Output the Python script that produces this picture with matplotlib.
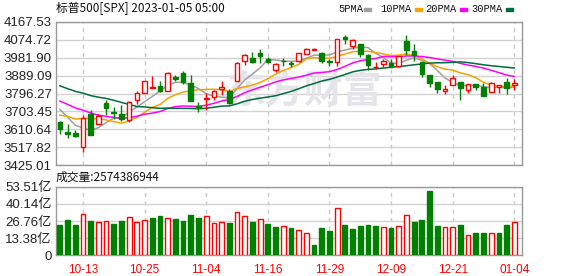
import numpy as np
import pandas as pd
import matplotlib
matplotlib.use("Agg")
import matplotlib.pyplot as plt
from matplotlib.patches import Rectangle

# 标普500 日K (2022-10-10 ~ 2023-01-04)
dates = ['10-10', '10-11', '10-12', '10-13', '10-14', '10-17', '10-18', '10-19', '10-20', '10-21',
         '10-24', '10-25', '10-26', '10-27', '10-28', '10-31', '11-01', '11-02', '11-03', '11-04',
         '11-07', '11-08', '11-09', '11-10', '11-11', '11-14', '11-15', '11-16', '11-17', '11-18',
         '11-21', '11-22', '11-23', '11-25', '11-28', '11-29', '11-30', '12-01', '12-02', '12-05',
         '12-06', '12-07', '12-08', '12-09', '12-12', '12-13', '12-14', '12-15', '12-16', '12-19',
         '12-20', '12-21', '12-22', '12-23', '12-27', '12-28', '12-29', '12-30', '01-03', '01-04']
open_ = [3647.5, 3595.9, 3590.8, 3520.4, 3690.4, 3638.7, 3746.3, 3703.1, 3689.1, 3657.1,
         3762.0, 3799.4, 3826.0, 3834.7, 3808.3, 3881.9, 3901.8, 3852.9, 3733.3, 3767.0,
         3780.7, 3817.0, 3810.9, 3859.9, 3963.7, 3978.0, 4006.4, 3976.8, 3919.3, 3966.4,
         3956.2, 3965.5, 4000.3, 4023.3, 4005.4, 3964.2, 3957.2, 4087.1, 4040.2, 4052.0,
         3996.6, 3933.3, 3947.8, 3954.2, 3939.3, 4069.4, 4015.5, 3958.4, 3890.9, 3853.8,
         3810.5, 3839.5, 3853.3, 3815.1, 3843.3, 3829.6, 3805.5, 3829.1, 3853.3, 3840.4]
high = [3652.2, 3640.7, 3608.3, 3685.4, 3712.0, 3689.7, 3762.8, 3728.6, 3736.0, 3757.9,
        3810.7, 3862.9, 3886.2, 3860.0, 3905.4, 3893.7, 3911.8, 3894.4, 3750.6, 3796.3,
        3814.0, 3859.4, 3818.2, 3958.3, 4001.5, 4009.0, 4028.8, 3983.1, 3954.3, 3979.9,
        3962.0, 4005.9, 4033.8, 4034.0, 4012.3, 3976.8, 4080.1, 4100.5, 4080.5, 4052.5,
        4001.5, 3957.6, 3974.2, 3977.0, 3990.7, 4101.0, 4053.8, 3958.4, 3890.9, 3854.9,
        3838.2, 3889.8, 3853.3, 3845.8, 3846.7, 3848.3, 3858.2, 3839.9, 3878.5, 3873.2]
low = [3588.1, 3568.5, 3573.9, 3491.6, 3579.7, 3638.7, 3686.5, 3666.5, 3656.4, 3647.4,
       3741.7, 3799.4, 3824.1, 3803.8, 3808.3, 3863.2, 3843.8, 3758.7, 3698.2, 3708.8,
       3764.7, 3786.3, 3744.2, 3859.9, 3944.8, 3956.4, 3953.2, 3954.3, 3906.5, 3936.0,
       3933.3, 3956.9, 3998.7, 4020.8, 3955.8, 3937.7, 3938.6, 4050.9, 4026.6, 3984.5,
       3918.4, 3922.7, 3935.8, 3933.0, 3935.3, 3993.0, 3965.7, 3879.5, 3827.9, 3800.0,
       3795.6, 3839.5, 3764.5, 3797.0, 3813.2, 3780.8, 3805.5, 3800.3, 3794.3, 3815.8]
close = [3612.4, 3588.8, 3577.0, 3669.9, 3583.1, 3678.0, 3720.0, 3695.2, 3665.8, 3752.8,
         3797.3, 3859.1, 3830.6, 3807.3, 3901.1, 3872.0, 3856.1, 3759.7, 3719.9, 3770.6,
         3806.8, 3828.1, 3748.6, 3956.4, 3992.9, 3957.3, 3991.7, 3958.8, 3946.6, 3965.3,
         3949.9, 4003.6, 4027.3, 4026.1, 3963.9, 3957.6, 4080.1, 4076.6, 4071.7, 3998.8,
         3941.3, 3933.9, 3963.5, 3934.4, 3990.6, 4019.7, 3995.3, 3895.8, 3852.4, 3817.7,
         3821.6, 3878.4, 3822.4, 3844.8, 3829.3, 3783.2, 3849.3, 3839.5, 3824.1, 3853.0]
# 窗口前 29 个交易日收盘 (用于均线)
prior_close = [4030.6, 3986.2, 3955.0, 3966.9, 3924.3, 3908.2, 3979.9, 4006.2, 4067.4, 4110.4,
               3932.7, 3946.0, 3901.4, 3873.3, 3899.9, 3855.9, 3789.9, 3758.0, 3693.2, 3655.0,
               3647.3, 3719.0, 3640.5, 3585.6, 3678.4, 3790.9, 3783.3, 3744.5, 3639.7]
# 成交量 (亿)
volume = [23.7, 27.6, 23.7, 32.0, 26.8, 25.7, 26.5, 24.4, 26.8, 30.2,
          26.0, 27.3, 28.9, 30.7, 28.9, 28.1, 26.8, 31.2, 29.1, 30.4,
          25.0, 25.7, 25.2, 33.5, 30.4, 26.0, 28.1, 24.4, 22.1, 22.6,
          21.3, 19.8, 17.2, 8.1, 21.3, 19.0, 36.7, 23.7, 20.5, 22.9,
          23.7, 22.9, 21.8, 21.3, 22.6, 31.2, 26.0, 27.6, 50.2, 22.9,
          21.8, 21.8, 23.7, 15.6, 17.4, 17.4, 17.2, 17.4, 23.7, 25.74]
last_volume = 2574386944

price_ticks = [3425.01, 3517.82, 3610.64, 3703.45, 3796.27, 3889.09, 3981.90, 4074.72, 4167.53]
vol_ticks = [0, 13.38, 26.76, 40.14, 53.51]
vol_tick_labels = ['0', '13.38亿', '26.76亿', '40.14亿', '53.51亿']
ma_windows = [5, 10, 20, 30]
ma_colors = ['#a0a0a0', '#f5a300', '#ff00ff', '#006b3c']

RED = '#ff0000'
GREEN = '#008000'
W, H = 578, 276
NUM = ['Liberation Sans', 'Noto Sans CJK SC']


def fx(px):
    return px / W


def fy(py):
    return 1 - py / H


x = np.arange(len(dates))
o = np.array(open_)
hi = np.array(high)
lo = np.array(low)
c = np.array(close)
v = np.array(volume)
tick_pos = x[3::8]

fig = plt.figure(figsize=(W / 100, H / 100), dpi=100)
ax = fig.add_axes([fx(56), fy(165.3), fx(522) - fx(56), fy(21.7) - fy(165.3)])
axv = fig.add_axes([fx(56), fy(255.3), fx(522) - fx(56), fy(186.7) - fy(255.3)])


def style(a, yticks):
    a.set_xlim(-0.5, 60)
    a.set_xticks(tick_pos)
    a.set_yticks(yticks)
    a.set_axisbelow(True)
    a.grid(axis='y', color='#d2d2d2', lw=1)
    a.grid(axis='x', color='#c8c8c8', lw=1, ls=(0, (3, 3)))
    for s in a.spines.values():
        s.set_color('#999999')
        s.set_linewidth(1)
    a.tick_params(length=0, pad=3)


style(ax, price_ticks)
ax.set_ylim(price_ticks[0], price_ticks[-1])
ax.set_yticklabels([f'{t:.2f}' for t in price_ticks], fontfamily='Liberation Sans',
                   fontsize=9.5, color='#222222')
ax.set_xticklabels([])

# 水印
ax.text(fx(304), fy(92), '东方财富', transform=fig.transFigure, ha='center', va='center',
        fontsize=28, fontweight='bold', color='#e4e4ea', family='Noto Sans CJK SC', zorder=1)

# K线
up = c >= o
kcol = np.where(up, RED, GREEN)
ax.vlines(x, lo, hi, colors=kcol, lw=1, zorder=3)
bot = np.minimum(o, c)
bh = np.abs(c - o)
ax.bar(x[up], bh[up], bottom=bot[up], width=0.6, facecolor='white', edgecolor=RED, lw=1, zorder=4)
ax.bar(x[~up], bh[~up], bottom=bot[~up], width=0.6, facecolor=GREEN, edgecolor=GREEN, lw=1, zorder=4)

# 均线
full = pd.Series(prior_close + close)
for w, col in zip(ma_windows, ma_colors):
    ma = full.rolling(w).mean().iloc[len(prior_close):].values
    ax.plot(x, ma, color=col, lw=1.1, zorder=2)

# 成交量
style(axv, vol_ticks)
axv.set_ylim(0, vol_ticks[-1])
axv.set_yticklabels(vol_tick_labels, fontfamily=NUM, fontsize=9.5, color='#222222')
axv.set_xticklabels([dates[i] for i in tick_pos], fontfamily='Liberation Sans', fontsize=8.5, color=RED)
axv.tick_params(axis='x', pad=6)
prev = np.r_[prior_close[-1], c[:-1]]
vup = c >= prev
axv.bar(x[vup], v[vup], width=0.62, facecolor='white', edgecolor=RED, lw=1, zorder=3)
axv.bar(x[~vup], v[~vup], width=0.62, facecolor=GREEN, edgecolor=GREEN, lw=1, zorder=3)

# 标题与图例
fig.text(fx(56), fy(8), '标普500[SPX] 2023-01-05 05:00', ha='left', va='center',
         fontsize=8.5, family=['Noto Sans CJK SC'], color='#111111')
fig.text(fx(56), fy(177.5), f'成交量:{last_volume}', ha='left', va='center',
         fontsize=8.5, family=['Noto Sans CJK SC'], color='#111111')
leg_x = [338, 380, 425, 471]
dash_x = [364, 415, 460, 506]
for w, col, lx, dx in zip(ma_windows, ma_colors, leg_x, dash_x):
    fig.text(fx(lx), fy(9), f'{w}PMA', ha='left', va='center', fontsize=7.5,
             family='Liberation Mono', color='#111111')
    fig.patches.append(Rectangle((fx(dx), fy(11)), fx(7), fy(0) - fy(3.5),
                                 transform=fig.transFigure, color=col))

fig.savefig('out.png', dpi=100)
